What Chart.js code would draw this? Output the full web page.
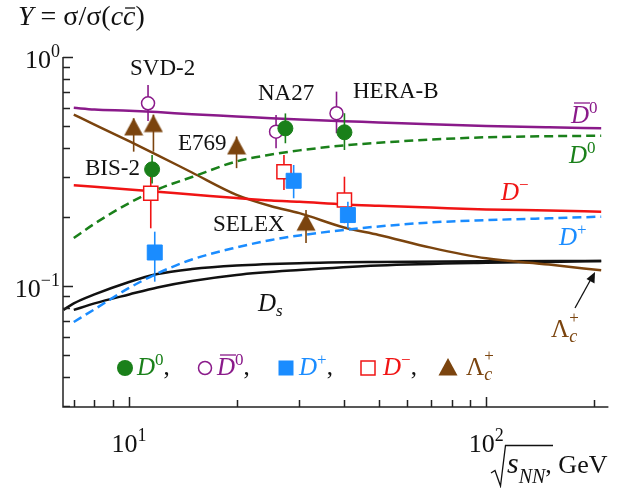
<!DOCTYPE html>
<html>
<head>
<meta charset="utf-8">
<script src="https://cdn.jsdelivr.net/npm/chart.js@4.4.1/dist/chart.umd.min.js"></script>
<style>
  html, body { margin: 0; padding: 0; background: #fff; }
</style>
</head>
<body>
<canvas id="grafico" width="620" height="488"></canvas>
<script>
// ==========================================
// DATOS
// ==========================================
const modelX      = [7, 8, 10, 12, 15, 20, 25, 30, 40, 50, 70, 100, 150, 210];
const dbar0Model  = [0.600, 0.590, 0.583, 0.575, 0.562, 0.550, 0.540, 0.533, 0.524, 0.518, 0.508, 0.500, 0.493, 0.488];
const d0Model     = [0.162, 0.187, 0.230, 0.264, 0.299, 0.350, 0.375, 0.391, 0.411, 0.422, 0.436, 0.446, 0.451, 0.453];
const dMinusModel = [0.275, 0.271, 0.264, 0.258, 0.251, 0.242, 0.236, 0.233, 0.227, 0.224, 0.220, 0.216, 0.2135, 0.211];
const dPlusModel  = [0.0696, 0.0791, 0.098, 0.1134, 0.1305, 0.1473, 0.1588, 0.1662, 0.1756, 0.1819, 0.1894, 0.1938, 0.1975, 0.2007];
const lambdaModel = [0.560, 0.507, 0.429, 0.373, 0.313, 0.250, 0.223, 0.208, 0.180, 0.167, 0.147, 0.132, 0.124, 0.117];

const dsUpperX = [6.55, 7, 8, 10, 12, 15, 20, 30, 50, 100, 210];
const dsUpper  = [0.0786, 0.0839, 0.0918, 0.1041, 0.1128, 0.1186, 0.1229, 0.1258, 0.1273, 0.1282, 0.1286];
const dsLowerX = [7, 8, 10, 12, 15, 20, 30, 50, 100, 150, 210];
const dsLower  = [0.0786, 0.0839, 0.0918, 0.0985, 0.1051, 0.1117, 0.1174, 0.1229, 0.1263, 0.1273, 0.1286];

// puntos experimentales: x, valor, extremo inferior y superior de la barra
const d0X  = [11.6, 27.4, 40.1];
const d0Y  = [0.323, 0.488, 0.469];
const d0Lo = [0.280, 0.420, 0.3925];
const d0Hi = [0.373, 0.567, 0.568];

const dbar0X  = [11.3, 25.8, 38.1];
const dbar0Y  = [0.628, 0.472, 0.568];
const dbar0Lo = [0.525, 0.399, 0.4645];
const dbar0Hi = [0.755, 0.558, 0.706];

const dPlusX  = [11.8, 28.9, 41.0];
const dPlusY  = [0.140, 0.288, 0.204];
const dPlusLo = [0.1044, 0.2415, 0.1786];
const dPlusHi = [0.1726, 0.3376, 0.233];

const dMinusX  = [11.5, 27.15, 40.1];
const dMinusY  = [0.254, 0.3155, 0.2374];
const dMinusLo = [0.1786, 0.2626, 0.188];
const dMinusHi = [0.305, 0.373, 0.300];

const lambdaX  = [10.3, 11.7, 20.0, 31.3];
const lambdaY  = [0.495, 0.512, 0.409, 0.190];
const lambdaLo = [0.386, 0.386, 0.327, 0.154];
const lambdaHi = [0.54, 0.56, 0.45, 0.2147];

// ejes
const xTickVals = [7, 8, 9, 10, 20, 30, 40, 50, 60, 70, 80, 90, 100, 200];
const xMajor = [10, 100];
const xTickLabels = [['10', '1'], ['10', '2']];
const yTickVals = [0.03, 0.04, 0.05, 0.06, 0.07, 0.08, 0.09, 0.1, 0.2, 0.3, 0.4, 0.5, 0.6, 0.7, 0.8, 0.9, 1];
const yMajor = [1, 0.1];
const yTickLabels = [['10', '0'], ['10', '\u22121']];

const experimentos = ['SVD-2', 'NA27', 'HERA-B', 'E769', 'BIS-2', 'SELEX'];

// colores
const MORADO = '#8a1a8a', VERDE = '#1a801a', ROJO = '#f01414', AZUL = '#1a8cff', MARRON = '#7b440e';
const SERIF = '"Liberation Serif", "DejaVu Serif", serif';

function puntos(xs, ys) { return xs.map((x, i) => ({ x: x, y: ys[i] })); }

function crearTriangulo(color) {
    const c = document.createElement('canvas');
    c.width = 20; c.height = 20;
    const g = c.getContext('2d');
    g.fillStyle = color;
    g.beginPath();
    g.moveTo(10, 1); g.lineTo(19.5, 18.5); g.lineTo(0.5, 18.5);
    g.closePath(); g.fill();
    return c;
}
const triangulo = crearTriangulo(MARRON);

function curva(xs, ys, color, dash) {
    return {
        data: puntos(xs, ys), showLine: true, pointRadius: 0, borderColor: color,
        borderWidth: 2.5, borderDash: dash || [], cubicInterpolationMode: 'monotone', order: 2
    };
}

function serie(xs, ys, lo, hi, color, estilo, radio, relleno, borde) {
    return {
        data: puntos(xs, ys), showLine: false, pointStyle: estilo, pointRadius: radio,
        pointBackgroundColor: relleno, pointBorderColor: color, pointBorderWidth: borde,
        borderColor: color, errLo: lo, errHi: hi, order: 0
    };
}

// dibuja texto con partes en cursiva, superíndices y subíndices
function texto(ctx, x, y, partes) {
    let cx = x;
    partes.forEach(p => {
        ctx.font = p.f;
        ctx.fillStyle = p.c;
        ctx.fillText(p.t, cx + (p.dx || 0), y + (p.dy || 0));
        const w = ctx.measureText(p.t).width;
        if (p.barra) {
            ctx.strokeStyle = p.c; ctx.lineWidth = 1.3;
            ctx.beginPath();
            ctx.moveTo(cx + p.barra[0], y + p.barra[2]);
            ctx.lineTo(cx + p.barra[1], y + p.barra[2]);
            ctx.stroke();
        }
        if (!p.sinAvance) cx += w + (p.dx || 0);
    });
    return cx;
}

const fI = s => 'italic ' + s + 'px ' + SERIF;
const fN = s => s + 'px ' + SERIF;

// ==========================================
// PLUGINS: barras de error y decoración
// ==========================================
const barrasError = {
    id: 'barrasError',
    beforeDatasetDraw(chart, args) {
        const ds = chart.data.datasets[args.index];
        if (!ds.errLo) return;
        const { ctx, scales: { x, y } } = chart;
        ctx.save();
        ctx.strokeStyle = ds.borderColor;
        ctx.lineWidth = 1.6;
        ds.data.forEach((p, i) => {
            const px = x.getPixelForValue(p.x);
            ctx.beginPath();
            ctx.moveTo(px, y.getPixelForValue(ds.errLo[i]));
            ctx.lineTo(px, y.getPixelForValue(ds.errHi[i]));
            ctx.stroke();
        });
        ctx.restore();
    }
};

const decoracion = {
    id: 'decoracion',
    afterDraw(chart) {
        const { ctx, chartArea: a, scales: { x, y } } = chart;
        ctx.save();

        // ejes y marcas hacia dentro
        ctx.strokeStyle = '#222';
        ctx.lineWidth = 1.5;
        ctx.beginPath();
        ctx.moveTo(a.left, a.top); ctx.lineTo(a.left, a.bottom); ctx.lineTo(a.right, a.bottom);
        yTickVals.forEach(v => {
            const py = Math.round(y.getPixelForValue(v)) + 0.5;
            const L = yMajor.includes(v) ? 10 : 7;
            ctx.moveTo(a.left, py); ctx.lineTo(a.left + L, py);
        });
        xTickVals.forEach(v => {
            const px = Math.round(x.getPixelForValue(v)) + 0.5;
            const L = xMajor.includes(v) ? 10 : 7;
            ctx.moveTo(px, a.bottom); ctx.lineTo(px, a.bottom - L);
        });
        ctx.stroke();

        // etiquetas de los ejes (10^n)
        ctx.textAlign = 'left';
        ctx.textBaseline = 'alphabetic';
        yMajor.forEach((v, i) => {
            const py = y.getPixelForValue(v);
            const lab = yTickLabels[i];
            ctx.font = fN(26); const w1 = ctx.measureText(lab[0]).width;
            ctx.font = fN(18); const w2 = ctx.measureText(lab[1]).width;
            texto(ctx, a.left - 3 - w1 - w2, py + 11, [
                { t: lab[0], f: fN(26), c: '#111' },
                { t: lab[1], f: fN(18), c: '#111', dy: -11 }
            ]);
        });
        xMajor.forEach((v, i) => {
            const px = x.getPixelForValue(v);
            const lab = xTickLabels[i];
            ctx.font = fN(26); const w1 = ctx.measureText(lab[0]).width;
            ctx.font = fN(18); const w2 = ctx.measureText(lab[1]).width;
            texto(ctx, px - (w1 + w2) / 2, a.bottom + 45, [
                { t: lab[0], f: fN(26), c: '#111' },
                { t: lab[1], f: fN(18), c: '#111', dy: -11 }
            ]);
        });

        // título del eje y
        texto(ctx, 18, 25, [
            { t: 'Y', f: fI(28), c: '#111' },
            { t: ' = \u03c3/\u03c3(', f: fN(28), c: '#111' },
            { t: 'c', f: fI(28), c: '#111' },
            { t: 'c', f: fI(28), c: '#111', barra: [2, 12, -17] },
            { t: ')', f: fN(28), c: '#111' }
        ]);

        // título del eje x con raíz
        ctx.strokeStyle = '#111'; ctx.lineWidth = 1.3;
        ctx.beginPath();
        ctx.moveTo(491, 473); ctx.lineTo(495, 470.5); ctx.lineTo(500.5, 486);
        ctx.lineTo(505.5, 445.5); ctx.lineTo(553, 445.5);
        ctx.stroke();
        texto(ctx, 507, 473, [
            { t: 's', f: fI(30), c: '#111' },
            { t: 'NN', f: fI(20), c: '#111', dy: 10 },
            { t: ', GeV', f: fN(26), c: '#111' }
        ]);

        // nombres de experimentos
        ctx.font = fN(23);
        ctx.fillStyle = '#111';
        const posExp = [[130, 75], [258, 100], [353, 98], [178, 150], [85, 175], [213, 231]];
        experimentos.forEach((t, i) => ctx.fillText(t, posExp[i][0], posExp[i][1]));

        // etiquetas de las curvas
        texto(ctx, 571, 123, [
            { t: 'D', f: fI(25), c: MORADO, barra: [3, 19, -20] },
            { t: '0', f: fN(17), c: MORADO, dy: -10 }
        ]);
        texto(ctx, 569, 163, [
            { t: 'D', f: fI(25), c: VERDE },
            { t: '0', f: fN(17), c: VERDE, dy: -10 }
        ]);
        texto(ctx, 501, 200, [
            { t: 'D', f: fI(25), c: ROJO },
            { t: '\u2212', f: fN(17), c: ROJO, dy: -10 }
        ]);
        texto(ctx, 559, 245, [
            { t: 'D', f: fI(25), c: AZUL },
            { t: '+', f: fN(17), c: AZUL, dy: -10 }
        ]);
        texto(ctx, 551, 337, [
            { t: '\u039b', f: fN(25), c: MARRON },
            { t: 'c', f: fI(18), c: MARRON, dy: 5, sinAvance: true },
            { t: '+', f: fN(17), c: MARRON, dy: -14 }
        ]);
        texto(ctx, 258, 311, [
            { t: 'D', f: fI(25), c: '#111' },
            { t: 's', f: fI(17), c: '#111', dy: 5 }
        ]);

        // flecha hacia la curva de Lambda
        ctx.strokeStyle = '#111'; ctx.fillStyle = '#111'; ctx.lineWidth = 1.3;
        ctx.beginPath(); ctx.moveTo(575, 308); ctx.lineTo(591, 279); ctx.stroke();
        ctx.beginPath();
        ctx.moveTo(595, 272); ctx.lineTo(594.5, 283.5); ctx.lineTo(586.5, 279); ctx.closePath(); ctx.fill();

        // leyenda
        const ly = 368, lb = 375;
        ctx.fillStyle = VERDE;
        ctx.beginPath(); ctx.arc(125, ly, 8, 0, Math.PI * 2); ctx.fill();
        texto(ctx, 137, lb, [
            { t: 'D', f: fI(25), c: VERDE },
            { t: '0', f: fN(17), c: VERDE, dy: -10 },
            { t: ',', f: fN(25), c: '#111' }
        ]);
        ctx.fillStyle = '#fff'; ctx.strokeStyle = MORADO; ctx.lineWidth = 1.5;
        ctx.beginPath(); ctx.arc(205, ly, 6.5, 0, Math.PI * 2); ctx.fill(); ctx.stroke();
        texto(ctx, 217, lb, [
            { t: 'D', f: fI(25), c: MORADO, barra: [3, 19, -20] },
            { t: '0', f: fN(17), c: MORADO, dy: -10 },
            { t: ',', f: fN(25), c: '#111' }
        ]);
        ctx.fillStyle = AZUL;
        ctx.fillRect(278.5, ly - 7.5, 15, 15);
        texto(ctx, 299, lb, [
            { t: 'D', f: fI(25), c: AZUL },
            { t: '+', f: fN(17), c: AZUL, dy: -10 },
            { t: ',', f: fN(25), c: '#111' }
        ]);
        ctx.fillStyle = '#fff'; ctx.strokeStyle = ROJO; ctx.lineWidth = 1.5;
        ctx.fillRect(361, ly - 7, 14, 14); ctx.strokeRect(361, ly - 7, 14, 14);
        texto(ctx, 383, lb, [
            { t: 'D', f: fI(25), c: ROJO },
            { t: '\u2212', f: fN(17), c: ROJO, dy: -10 },
            { t: ',', f: fN(25), c: '#111' }
        ]);
        ctx.drawImage(triangulo, 438, ly - 11);
        texto(ctx, 466, lb, [
            { t: '\u039b', f: fN(25), c: MARRON },
            { t: 'c', f: fI(18), c: MARRON, dy: 5, sinAvance: true },
            { t: '+', f: fN(17), c: MARRON, dy: -14 }
        ]);

        ctx.restore();
    }
};

// ==========================================
// GRÁFICO
// ==========================================
const ctx = document.getElementById('grafico').getContext('2d');
new Chart(ctx, {
    type: 'scatter',
    data: {
        datasets: [
            serie(d0X, d0Y, d0Lo, d0Hi, VERDE, 'circle', 7.5, VERDE, 1),
            serie(dbar0X, dbar0Y, dbar0Lo, dbar0Hi, MORADO, 'circle', 6.5, '#fff', 1.5),
            serie(dPlusX, dPlusY, dPlusLo, dPlusHi, AZUL, 'rect', 10.6, AZUL, 1),
            serie(dMinusX, dMinusY, dMinusLo, dMinusHi, ROJO, 'rect', 10, '#fff', 1.5),
            serie(lambdaX, lambdaY, lambdaLo, lambdaHi, MARRON, triangulo, 10, MARRON, 0),
            curva(modelX, dbar0Model, MORADO),
            curva(modelX, d0Model, VERDE, [9, 5]),
            curva(modelX, dMinusModel, ROJO),
            curva(modelX, dPlusModel, AZUL, [9, 5]),
            curva(modelX, lambdaModel, MARRON),
            curva(dsUpperX, dsUpper, '#111'),
            curva(dsLowerX, dsLower, '#111')
        ]
    },
    options: {
        responsive: false,
        animation: false,
        events: [],
        layout: { padding: { left: 63, right: 1, top: 57, bottom: 81 } },
        plugins: { legend: { display: false }, tooltip: { enabled: false } },
        scales: {
            x: {
                type: 'logarithmic', min: 6.53, max: 220,
                ticks: { display: false }, grid: { display: false }, border: { display: false },
                afterFit(s) { s.height = 0; }
            },
            y: {
                type: 'logarithmic', min: 0.0296, max: 1,
                ticks: { display: false }, grid: { display: false }, border: { display: false },
                afterFit(s) { s.width = 0; }
            }
        }
    },
    plugins: [barrasError, decoracion]
});
</script>
</body>
</html>
